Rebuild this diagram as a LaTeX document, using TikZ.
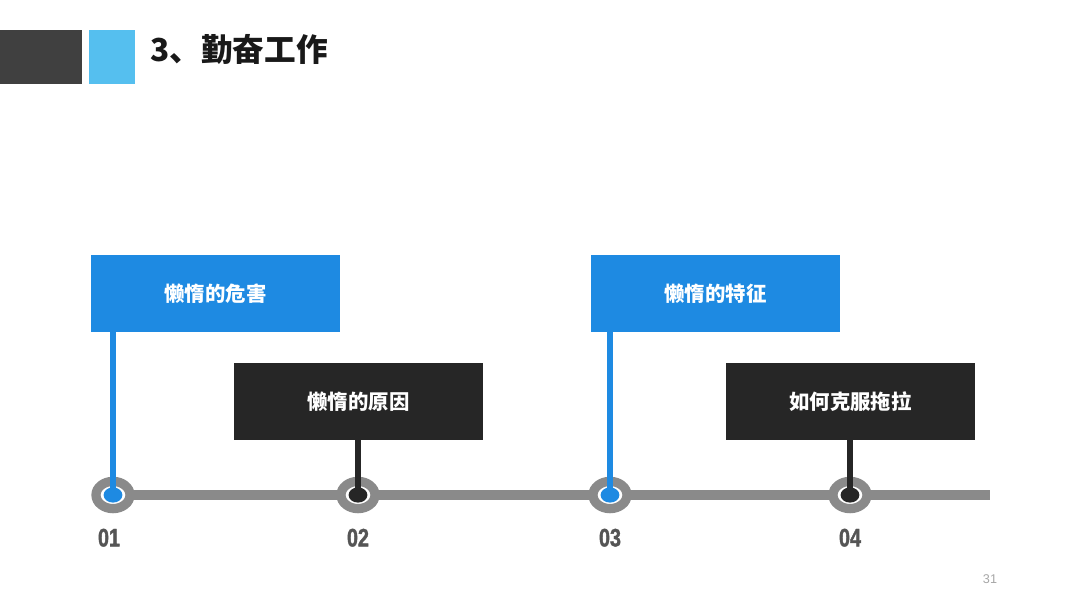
\documentclass[tikz,border=0pt]{standalone}
\usepackage{fontspec}
\setmainfont{Liberation Sans}
\newfontfamily\cjk{Noto Sans CJK SC}
\newfontfamily\narrowfont[FakeStretch=0.78, FakeBold=1.5]{Liberation Sans}
\usepackage{tikz}
\usetikzlibrary{positioning, shapes.geometric}

\definecolor{barblue}{HTML}{1E8AE2}
\definecolor{bardark}{HTML}{262626}
\definecolor{bargray}{HTML}{8A8A8A}
\definecolor{headdark}{HTML}{404040}
\definecolor{headblue}{HTML}{55BFEF}
\definecolor{numgray}{HTML}{555555}

\tikzset{
  topicbox/.style={minimum width=6.225cm, minimum height=1.925cm, inner sep=0pt,
                   text=white, font=\cjk\bfseries\fontsize{14.5}{16}\selectfont},
  ring/.style={ellipse, draw=bargray, line width=6.6pt, fill=white,
               minimum width=0.85cm, minimum height=0.68cm, inner sep=0pt},
  dot/.style={ellipse, minimum width=0.47cm, minimum height=0.38cm, inner sep=0pt},
  stem/.style={line width=3.6pt},
  num/.style={text=numgray, inner sep=0pt, font=\narrowfont\bfseries\fontsize{18}{20}\selectfont}
}

\begin{document}
\begin{tikzpicture}[x=0.025cm, y=-0.025cm]
  \useasboundingbox (0,0) rectangle (1080,608);

  % Header
  \fill[headdark] (0,30) rectangle (82,84);
  \fill[headblue] (89,30) rectangle (135,84);
  \node[anchor=west, inner sep=0pt, text=black!90, font=\cjk\bfseries\fontsize{22.5}{25}\selectfont]
    (title) at (150,50) {3、勤奋工作};

  % Timeline bar
  \coordinate (barend) at (990,495);
  \draw[bargray, line width=7.1pt] (113,495) -- (barend);

  % Rings on the timeline
  \node[ring] (c1) at (113,495) {};
  \node[ring] (c2) at (358,495) {};
  \node[ring] (c3) at (610,495) {};
  \node[ring] (c4) at (850,495) {};

  % Topic boxes
  \node[topicbox, fill=barblue] (b1) at (215.5,293.5) {懒惰的危害};
  \node[topicbox, fill=bardark] (b2) at (358.5,401.5) {懒惰的原因};
  \node[topicbox, fill=barblue] (b3) at (715.5,293.5) {懒惰的特征};
  \node[topicbox, fill=bardark] (b4) at (850.5,401.5) {如何克服拖拉};

  % Stems from boxes down to the rings
  \draw[stem, barblue] (c1 |- b1.south) -- (c1.center);
  \draw[stem, bardark] (c2 |- b2.south) -- (c2.center);
  \draw[stem, barblue] (c3 |- b3.south) -- (c3.center);
  \draw[stem, bardark] (c4 |- b4.south) -- (c4.center);

  % Dots
  \node[dot, fill=barblue] (d1) at (c1) {};
  \node[dot, fill=bardark] (d2) at (c2) {};
  \node[dot, fill=barblue] (d3) at (c3) {};
  \node[dot, fill=bardark] (d4) at (c4) {};

  % Numbers
  \node[num, below=0.38cm of c1, xshift=-0.1cm] (n1) {01};
  \node[num, below=0.38cm of c2] (n2) {02};
  \node[num, below=0.38cm of c3] (n3) {03};
  \node[num, below=0.38cm of c4] (n4) {04};

  % Page number
  \node[text=black!35, font=\fontsize{9}{10}\selectfont] (page) at (990,579) {31};
\end{tikzpicture}
\end{document}
